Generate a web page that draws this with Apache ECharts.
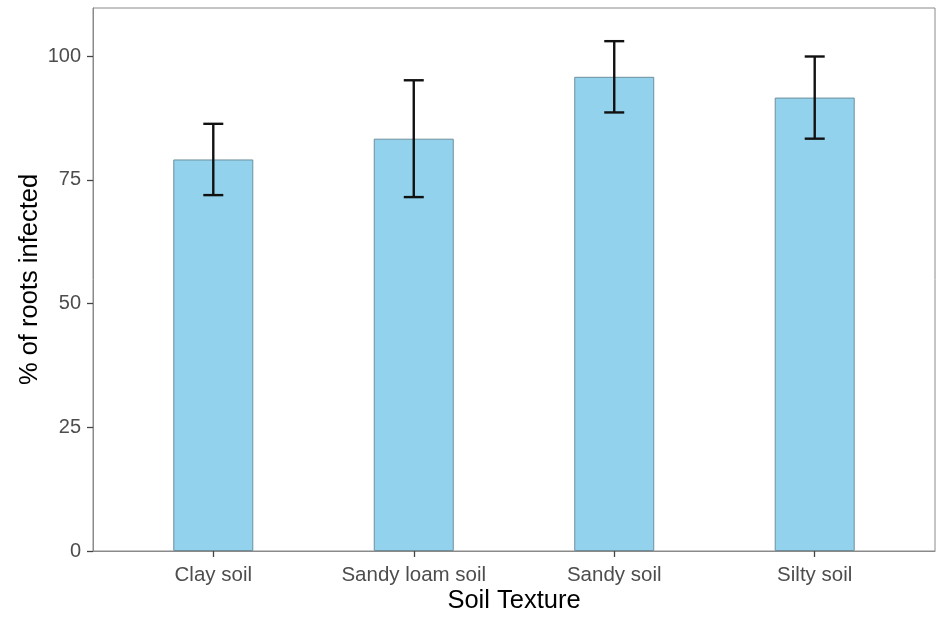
<!DOCTYPE html>
<html>
<head>
<meta charset="utf-8">
<script src="https://cdn.jsdelivr.net/npm/echarts@6/dist/echarts.min.js"></script>
<style>
  html, body { margin: 0; padding: 0; background: #fff; }
  #chart { width: 940px; height: 618px; }
</style>
</head>
<body>
<div id="chart"></div>
<script>
// Soil texture categories and root infection (%), with error bar bounds
const categories = ['Clay soil', 'Sandy loam soil', 'Sandy soil', 'Silty soil'];
const infected = [79.1, 83.3, 95.8, 91.6];
const errLow = [71.9, 71.5, 88.6, 83.3];
const errHigh = [86.3, 95.1, 103.0, 99.9];
const yTicks = [0, 25, 50, 75, 100];

const positions = categories.map((_, i) => i + 1);
const barData = positions.map((p, i) => [p, infected[i]]);
const errData = positions.map((p, i) => [p, errLow[i], errHigh[i]]);

const font = 'Liberation Sans, Arial, sans-serif';
const chart = echarts.init(document.getElementById('chart'), null, { renderer: 'canvas' });

chart.setOption({
  animation: false,
  backgroundColor: '#ffffff',
  grid: {
    left: 93, right: 5, top: 8, bottom: 67,
    outerBoundsMode: 'none',
    containLabel: false,
    show: true, borderColor: '#8a8a8a', borderWidth: 1, backgroundColor: 'transparent'
  },
  xAxis: {
    type: 'value',
    min: 0.4, max: 4.6,
    name: 'Soil Texture',
    nameLocation: 'middle',
    nameMoveOverlap: false,
    nameGap: 37,
    nameTextStyle: { fontFamily: font, fontSize: 25.5, color: '#000' },
    axisLine: { show: true, lineStyle: { color: '#8a8a8a', width: 1 } },
    axisTick: { show: true, length: 6, customValues: positions, lineStyle: { color: '#444', width: 1.3 } },
    axisLabel: {
      customValues: positions,
      margin: 14,
      fontFamily: font, fontSize: 20.5, color: '#4d4d4d',
      formatter: v => categories[Math.round(v) - 1] || ''
    },
    splitLine: { show: false }
  },
  yAxis: {
    type: 'value',
    min: 0, max: 109.7,
    name: '% of roots infected',
    nameLocation: 'middle',
    nameMoveOverlap: false,
    nameGap: 50,
    nameRotate: 90,
    nameTextStyle: { fontFamily: font, fontSize: 25.5, color: '#000' },
    axisLine: { show: true, lineStyle: { color: '#8a8a8a', width: 1 } },
    axisTick: { show: true, length: 6, customValues: yTicks, lineStyle: { color: '#444', width: 1.3 } },
    axisLabel: {
      customValues: yTicks,
      margin: 12,
      fontFamily: font, fontSize: 20, color: '#4d4d4d'
    },
    splitLine: { show: false }
  },
  series: [
    {
      type: 'bar',
      data: barData,
      barWidth: 80,
      itemStyle: { color: '#92d2ec', borderColor: '#6f8f9c', borderWidth: 1 },
      z: 2
    },
    {
      type: 'custom',
      data: errData,
      z: 3,
      renderItem: function (params, api) {
        const x = api.value(0);
        const lo = api.coord([x, api.value(1)]);
        const hi = api.coord([x, api.value(2)]);
        const half = 10;
        const style = { stroke: '#111', lineWidth: 2.4 };
        return {
          type: 'group',
          children: [
            { type: 'line', shape: { x1: lo[0], y1: lo[1], x2: hi[0], y2: hi[1] }, style },
            { type: 'line', shape: { x1: lo[0] - half, y1: lo[1], x2: lo[0] + half, y2: lo[1] }, style },
            { type: 'line', shape: { x1: hi[0] - half, y1: hi[1], x2: hi[0] + half, y2: hi[1] }, style }
          ]
        };
      }
    }
  ]
});
</script>
</body>
</html>
